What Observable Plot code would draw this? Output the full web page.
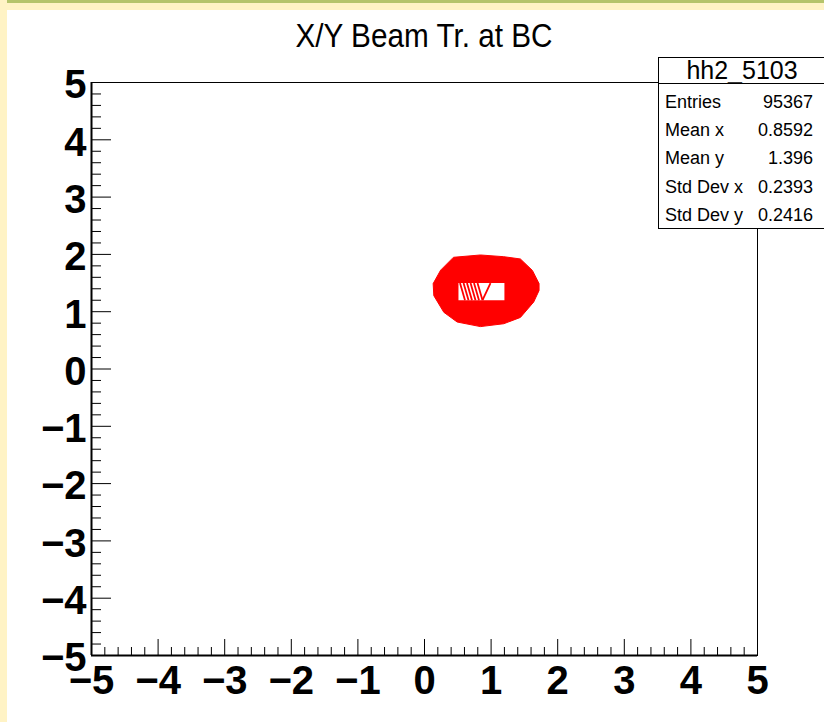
<!DOCTYPE html>
<html>
<head>
<meta charset="utf-8">
<script src="https://cdn.jsdelivr.net/npm/d3@7"></script>
<script src="https://cdn.jsdelivr.net/npm/@observablehq/plot@0.6"></script>
<style>
  html, body { margin: 0; padding: 0; background: #fff; }
  #page { position: relative; width: 824px; height: 722px; overflow: hidden; background: #fff;
          font-family: "Liberation Sans", Arial, Helvetica, sans-serif; color: #000; }
  .strip { position: absolute; }
  #chart { position: absolute; left: 0; top: 0; }
  #title { position: absolute; left: 0; width: 848px; top: 19px; text-align: center;
           font-size: 33px; line-height: 33px; transform: scaleX(0.9); transform-origin: 424px 0; white-space: nowrap; }
  #stats { position: absolute; left: 658px; top: 57px; width: 168px; height: 172px; box-sizing: border-box;
           border: 1px solid #000; background: #fff; }
  #statsSep { position: absolute; left: 658px; top: 83px; width: 168px; height: 1px; background: #000; }
  .stxt { position: absolute; white-space: nowrap; }
</style>
</head>
<body>
<div id="page">
  <div class="strip" style="left:0;top:0;width:824px;height:3px;background:#b5c46b"></div>
  <div class="strip" style="left:0;top:3px;width:824px;height:7px;background:#fff3c5"></div>
  <div class="strip" style="left:0;top:0;width:7px;height:722px;background:#fff3c5"></div>
  <div id="chart"></div>
  <div id="title"></div>
  <div id="stats"></div>
  <div id="statsSep"></div>
</div>
<script>
// ---------- data ----------
const titleText = "X/Y Beam Tr. at BC";
const histName = "hh2_5103";
const statLabels = ["Entries", "Mean x", "Mean y", "Std Dev x", "Std Dev y"];
const statValues = ["95367", "0.8592", "1.396", "0.2393", "0.2416"];

const xMajorTicks = [-5, -4, -3, -2, -1, 0, 1, 2, 3, 4, 5];
const yMajorTicks = [-5, -4, -3, -2, -1, 0, 1, 2, 3, 4, 5];
const xMinorTicks = d3.range(-25, 26).filter(i => i % 5 !== 0).map(i => i / 5);
const yMinorTicks = d3.range(-25, 26).filter(i => i % 5 !== 0).map(i => i / 5);

// outer filled contour of the beam spot (data units)
const blobX = [0.44, 0.84, 1.19, 1.44, 1.62, 1.72, 1.72, 1.64, 1.44, 1.19, 0.84, 0.49, 0.29, 0.14, 0.13, 0.24];
const blobY = [1.95, 1.99, 1.96, 1.92, 1.72, 1.49, 1.37, 1.17, 0.90, 0.79, 0.74, 0.82, 0.99, 1.28, 1.49, 1.72];
// inner empty region
const holeX = [0.51, 1.20, 1.20, 0.51];
const holeY = [1.50, 1.50, 1.20, 1.20];
// red hatching lines inside the empty region
const stripeTopX = [0.533, 0.586, 0.638, 0.691, 0.743, 0.796, 0.991];
const stripeBotX = [0.608, 0.661, 0.713, 0.766, 0.818, 0.871, 0.871];
const stripeTopY = 1.50, stripeBotY = 1.20;

// ---------- build ----------
const blob = blobX.map((x, i) => ({x, y: blobY[i]}));
const hole = holeX.map((x, i) => ({x, y: holeY[i]}));
const stripes = stripeTopX.map((x, i) => ({x1: x, y1: stripeTopY, x2: stripeBotX[i], y2: stripeBotY}));

const font = "'Liberation Sans', Arial, Helvetica, sans-serif";
const fmt = d3.format("d");
const noText = {text: null, tickFormat: () => "", label: null, stroke: "#000"};

const chart = Plot.plot({
  width: 824,
  height: 722,
  marginLeft: 91,
  marginRight: 67,
  marginTop: 82,
  marginBottom: 67,
  x: {domain: [-5, 5]},
  y: {domain: [-5, 5]},
  style: {background: "transparent", fontFamily: font, overflow: "visible", color: "#000"},
  marks: [
    Plot.line(blob, {x: "x", y: "y", fill: "#ff0000", stroke: "#ff0000", strokeWidth: 1, curve: "linear-closed"}),
    Plot.line(hole, {x: "x", y: "y", fill: "#ffffff", stroke: "none", curve: "linear-closed"}),
    Plot.link(stripes, {x1: "x1", y1: "y1", x2: "x2", y2: "y2", stroke: "#ff0000", strokeWidth: 1.8}),
    Plot.frame({stroke: "#000", strokeWidth: 1}),
    Plot.ruleX([-5], {stroke: "#000", strokeWidth: 2}),
    Plot.ruleY([-5], {stroke: "#000", strokeWidth: 2}),
    Plot.axisX(xMinorTicks, {...noText, tickSize: -8}),
    Plot.axisX(xMajorTicks, {...noText, tickSize: -16}),
    Plot.axisX(xMajorTicks, {tickSize: 0, tickPadding: 10, tickFormat: fmt, fontSize: 40, fontWeight: "bold", label: null, fill: "#000"}),
    Plot.axisY(yMinorTicks, {...noText, tickSize: -10}),
    Plot.axisY(yMajorTicks, {...noText, tickSize: -20}),
    Plot.axisY(yMajorTicks, {tickSize: 0, tickPadding: 5, dy: 3, tickFormat: fmt, fontSize: 40, fontWeight: "bold", label: null, fill: "#000"})
  ]
});
document.getElementById("chart").appendChild(chart);

document.getElementById("title").textContent = titleText;

const page = document.getElementById("page");
function addText(txt, css) {
  const d = document.createElement("div");
  d.className = "stxt";
  d.textContent = txt;
  Object.assign(d.style, css);
  page.appendChild(d);
}
addText(histName, {left: "658px", width: "168px", textAlign: "center", top: "56px", fontSize: "25px", lineHeight: "28px"});
statLabels.forEach((lab, i) => {
  const cy = 101.7 + i * 28.3;
  addText(lab, {left: "665px", top: (cy - 10) + "px", fontSize: "18px", lineHeight: "20px"});
  addText(statValues[i], {left: "713px", width: "100px", textAlign: "right", top: (cy - 10) + "px", fontSize: "18px", lineHeight: "20px"});
});
</script>
</body>
</html>
